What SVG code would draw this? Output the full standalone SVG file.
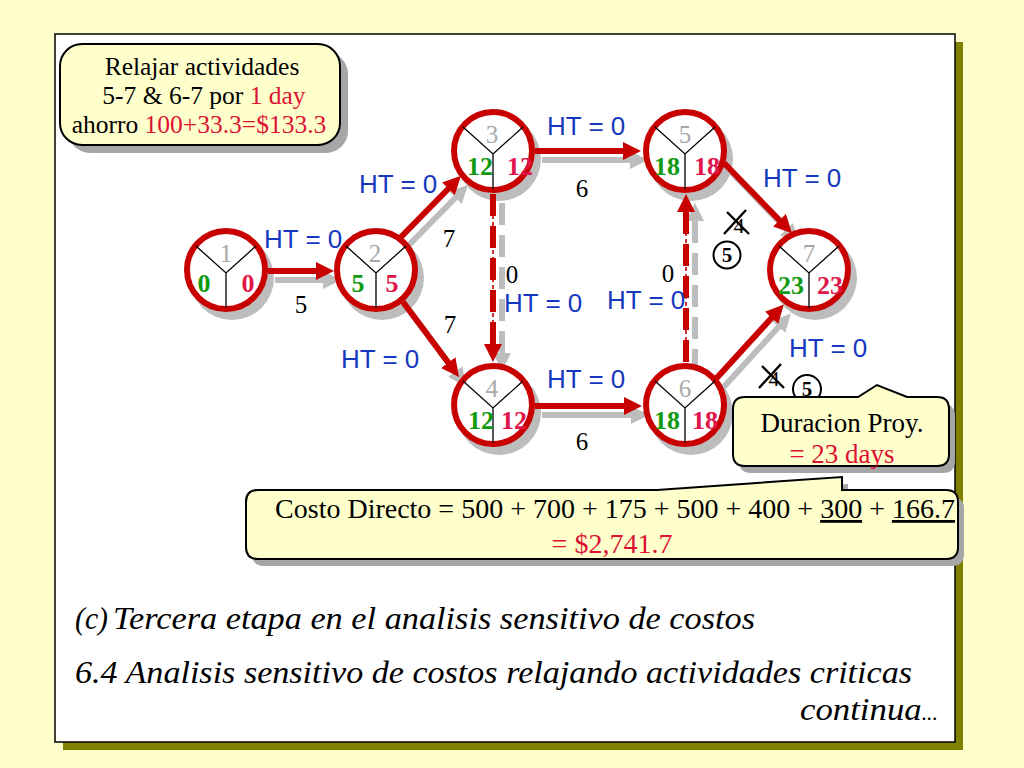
<svg xmlns="http://www.w3.org/2000/svg" width="1024" height="768" viewBox="0 0 1024 768">
<style>
.serif{font-family:"Liberation Serif","Times New Roman",serif}
.sans{font-family:"Liberation Sans",Arial,sans-serif}
.node{fill:#fff;stroke:#C80000;stroke-width:6}
.nsh{fill:#BDBDBD}
.yl{fill:none;stroke:#000;stroke-width:1.3}
.top{font-family:"Liberation Serif",serif;font-size:25px;fill:#A8A8A8;text-anchor:middle}
.es{font-family:"Liberation Serif",serif;font-size:26px;font-weight:bold;fill:#119911;text-anchor:middle}
.lf{font-family:"Liberation Serif",serif;font-size:26px;font-weight:bold;fill:#E0154A;text-anchor:middle}
.conn{fill:none;stroke:#C80000;stroke-width:6}
.csh{fill:none;stroke:#BDBDBD;stroke-width:6}
.dash{stroke-dasharray:22 10}
.thin{fill:none;stroke:#C80000;stroke-width:1.6;stroke-dasharray:4 3}
.ht{font-family:"Liberation Sans",Arial,sans-serif;font-size:26px;fill:#1638C0}
.dur{font-family:"Liberation Serif",serif;font-size:25px;fill:#000;text-anchor:middle}
.red{fill:#DD1133}
.call{fill:#FFFFCC;stroke:#000;stroke-width:2}
.callsh{fill:#A6A6A6}
.it{font-family:"Liberation Serif","Times New Roman",serif;font-style:italic;font-size:32px;fill:#000}
</style>
<defs>
<marker id="ah" markerUnits="userSpaceOnUse" markerWidth="20" markerHeight="18" refX="8" refY="9" orient="auto"><path d="M0,0 L18,9 L0,18 z" fill="#C80000"/></marker>
<marker id="ahs" markerUnits="userSpaceOnUse" markerWidth="20" markerHeight="18" refX="8" refY="9" orient="auto"><path d="M0,0 L18,9 L0,18 z" fill="#BDBDBD"/></marker>
</defs>
<rect width="1024" height="768" fill="#FFFFCC"/>
<rect x="63" y="42" width="900" height="708" fill="#808000"/>
<rect x="55" y="34" width="900" height="708" fill="#fff" stroke="#000" stroke-width="1.5"/>

<g id="callout-relajar">
<rect x="68" y="52" width="280" height="101" rx="22" class="callsh"/>
<rect x="60" y="44" width="280" height="101" rx="22" class="call"/>
<text class="serif" font-size="25.5" text-anchor="middle"><tspan x="202" y="75">Relajar actividades</tspan><tspan x="204" y="104">5-7 &amp; 6-7  por <tspan class="red">1 day</tspan></tspan><tspan x="199" y="133">ahorro <tspan class="red">100+33.3=$133.3</tspan></tspan></text>
</g>

<g id="shadows">
<path class="csh" d="M275,280 L331,280" marker-end="url(#ahs)"/>
<path class="csh" d="M408,246 L461,192" marker-end="url(#ahs)"/>
<path class="csh" d="M410,311 L460,378" marker-end="url(#ahs)"/>
<path class="csh" d="M542,160 L638,160" marker-end="url(#ahs)"/>
<path class="csh" d="M542,415 L639,415" marker-end="url(#ahs)"/>
<path class="csh" d="M731,172 L792,235" marker-end="url(#ahs)"/>
<path class="csh" d="M721,390 L784,321" marker-end="url(#ahs)"/>
<path class="csh dash" d="M502,203 L502,361" marker-end="url(#ahs)"/>
<path class="csh dash" d="M695,371 L695,213" marker-end="url(#ahs)"/>
<circle class="nsh" cx="232" cy="278" r="42"/>
<circle class="nsh" cx="382" cy="278" r="42"/>
<circle class="nsh" cx="499" cy="159" r="42"/>
<circle class="nsh" cx="499" cy="413" r="42"/>
<circle class="nsh" cx="691" cy="159" r="42"/>
<circle class="nsh" cx="691" cy="413" r="42"/>
<circle class="nsh" cx="815" cy="278" r="42"/>
</g>

<g id="connectors">
<path class="conn" d="M268,271 L324,271" marker-end="url(#ah)"/>
<path class="conn" d="M401,237 L454,183" marker-end="url(#ah)"/>
<path class="conn" d="M403,302 L453,369" marker-end="url(#ah)"/>
<path class="conn" d="M535,151 L631,151" marker-end="url(#ah)"/>
<path class="conn" d="M535,406 L632,406" marker-end="url(#ah)"/>
<path class="conn" d="M724,163 L785,226" marker-end="url(#ah)"/>
<path class="conn" d="M714,381 L777,312" marker-end="url(#ah)"/>
<path class="conn dash" d="M493,194 L493,352" marker-end="url(#ah)"/>
<path class="thin" d="M493,194 L493,352"/>
<path class="conn dash" d="M686,362 L686,204" marker-end="url(#ah)"/>
<path class="thin" d="M686,362 L686,204"/>
<text class="ht" x="264" y="248">HT = 0</text>
<text class="ht" x="359" y="193">HT = 0</text>
<text class="ht" x="547" y="135">HT = 0</text>
<text class="ht" x="763" y="187">HT = 0</text>
<text class="ht" x="504" y="312">HT = 0</text>
<text class="ht" x="607" y="309">HT = 0</text>
<text class="ht" x="341" y="368">HT = 0</text>
<text class="ht" x="547" y="388">HT = 0</text>
<text class="ht" x="789" y="357">HT = 0</text>
<text class="dur" x="301" y="313">5</text>
<text class="dur" x="449" y="247">7</text>
<text class="dur" x="450" y="333">7</text>
<text class="dur" x="582" y="197">6</text>
<text class="dur" x="512" y="283">0</text>
<text class="dur" x="668" y="282">0</text>
<text class="dur" x="582" y="450">6</text>
</g>

<g id="node1">
<circle class="node" cx="226" cy="270" r="39"/>
<path class="yl" d="M196,246 L226,273 L256,246 M226,273 V308"/>
<text class="top" x="226" y="262">1</text>
<text class="es" x="204" y="292">0</text>
<text class="lf" x="248" y="292">0</text>
</g>
<g id="node2">
<circle class="node" cx="376" cy="270" r="39"/>
<path class="yl" d="M346,246 L376,273 L406,246 M376,273 V308"/>
<text class="top" x="375" y="262">2</text>
<text class="es" x="358" y="292">5</text>
<text class="lf" x="392" y="292">5</text>
</g>
<g id="node3">
<circle class="node" cx="493" cy="151" r="39"/>
<path class="yl" d="M463,127 L493,154 L523,127 M493,154 V189"/>
<text class="top" x="492" y="143">3</text>
<text class="es" x="480" y="175">12</text>
<text class="lf" x="520" y="175">12</text>
</g>
<g id="node4">
<circle class="node" cx="493" cy="405" r="39"/>
<path class="yl" d="M463,381 L493,408 L523,381 M493,408 V443"/>
<text class="top" x="492" y="397">4</text>
<text class="es" x="481" y="429">12</text>
<text class="lf" x="514" y="429">12</text>
</g>
<g id="node5">
<circle class="node" cx="685" cy="151" r="39"/>
<path class="yl" d="M655,127 L685,154 L715,127 M685,154 V189"/>
<text class="top" x="685" y="143">5</text>
<text class="es" x="667" y="175">18</text>
<text class="lf" x="707" y="175">18</text>
</g>
<g id="node6">
<circle class="node" cx="685" cy="405" r="39"/>
<path class="yl" d="M655,381 L685,408 L715,381 M685,408 V443"/>
<text class="top" x="685" y="397">6</text>
<text class="es" x="667" y="429">18</text>
<text class="lf" x="705" y="429">18</text>
</g>
<g id="node7">
<circle class="node" cx="809" cy="270" r="39"/>
<path class="yl" d="M779,246 L809,273 L839,246 M809,273 V308"/>
<text class="top" x="809" y="262">7</text>
<text class="es" x="791" y="294">23</text>
<text class="lf" x="830" y="294">23</text>
</g>

<g id="revisions">
<text class="serif" font-size="22" x="739" y="233" text-anchor="middle">4</text>
<path d="M727,212 L749,234 M746,210 L724,234" stroke="#000" stroke-width="2.4" fill="none"/>
<circle cx="727" cy="255" r="13.5" fill="#fff" stroke="#000" stroke-width="2"/>
<text class="serif" font-size="21" font-weight="bold" x="727" y="262" text-anchor="middle">5</text>
<text class="serif" font-size="22" x="774" y="386" text-anchor="middle">4</text>
<path d="M762,366 L784,388 M781,364 L759,388" stroke="#000" stroke-width="2.4" fill="none"/>
<circle cx="807" cy="389" r="14" fill="#fff" stroke="#000" stroke-width="2"/>
<text class="serif" font-size="21" font-weight="bold" x="807" y="396" text-anchor="middle">5</text>
</g>

<g id="callout-duracion">
<path class="callsh" d="M751,404 H864 L883,392 L913,404 H943 Q955,404 955,416 V461 Q955,473 943,473 H751 Q739,473 739,461 V416 Q739,404 751,404 Z"/>
<path class="call" d="M745,397 H858 L877,385 L907,397 H937 Q949,397 949,409 V454 Q949,466 937,466 H745 Q733,466 733,454 V409 Q733,397 745,397 Z"/>
<text class="serif" font-size="27" text-anchor="middle"><tspan x="842" y="432">Duracion Proy.</tspan><tspan x="842" y="463" class="red">= 23 days</tspan></text>
</g>

<g id="callout-costo">
<path class="callsh" d="M264,497 H663 L848,484 L848,497 H952 Q964,497 964,509 V554 Q964,566 952,566 H264 Q252,566 252,554 V509 Q252,497 264,497 Z"/>
<path class="call" d="M258,490 H657 L842,477 L842,490 H946 Q958,490 958,502 V547 Q958,559 946,559 H258 Q246,559 246,547 V502 Q246,490 258,490 Z"/>
<text class="serif" font-size="28" text-anchor="middle" x="615" y="518">Costo Directo = 500 + 700 + 175 + 500 + 400 + <tspan text-decoration="underline">300</tspan> + <tspan text-decoration="underline">166.7</tspan></text>
<text class="serif red" font-size="28" text-anchor="middle" x="612" y="553">= $2,741.7</text>
</g>

<g id="captions">
<text class="it" x="75" y="629" textLength="33" lengthAdjust="spacingAndGlyphs">(c)</text>
<text class="it" x="113" y="629" textLength="642" lengthAdjust="spacingAndGlyphs">Tercera etapa en el analisis sensitivo de costos</text>
<text class="it" x="75" y="683" textLength="837" lengthAdjust="spacingAndGlyphs">6.4 Analisis sensitivo de costos relajando actividades criticas</text>
<text class="it" x="800" y="720" textLength="138" lengthAdjust="spacingAndGlyphs">continua<tspan font-size="20">...</tspan></text>
</g>
</svg>
